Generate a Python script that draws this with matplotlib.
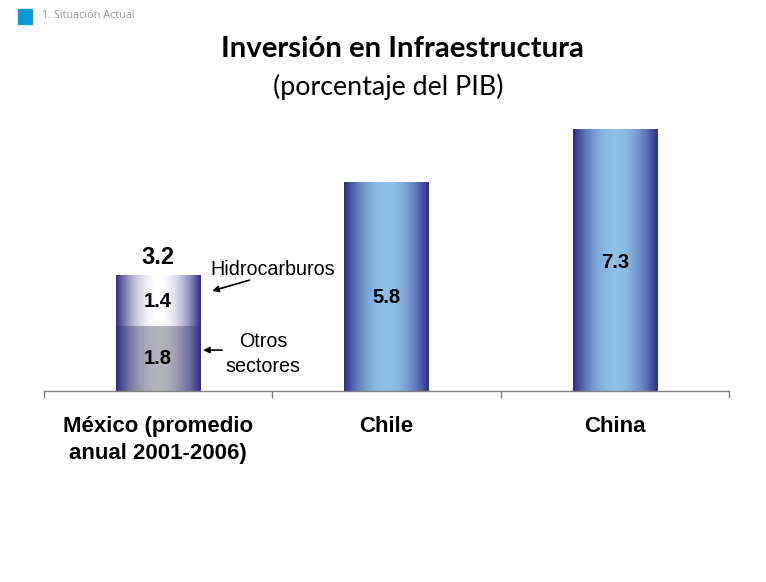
import numpy as np
import matplotlib.pyplot as plt
from matplotlib.colors import to_rgb
from matplotlib.patches import Rectangle
from matplotlib.transforms import blended_transform_factory

# datos
categorias = ["México (promedio\nanual 2001-2006)", "Chile", "China"]
mexico_otros = 1.8
mexico_hidro = 1.4
mexico_total = 3.2
valores = [mexico_total, 5.8, 7.3]
etiquetas = ["3.2", "5.8", "7.3"]

fig = plt.figure(figsize=(7.66, 5.82), dpi=100)
ax = fig.add_axes([0.0574, 0.3282, 0.8943, 0.4931])
ax.set_xlim(-0.5, 2.5)
ax.set_ylim(0, 8)

ancho = 0.37


def gradiente(ax, x0, y0, y1, borde, centro, ancho=ancho):
    t = np.abs(np.linspace(-1, 1, 256))
    f = t ** 2.0
    b = np.array(to_rgb(borde))
    c = np.array(to_rgb(centro))
    img = c[None, :] * (1 - f[:, None]) + b[None, :] * f[:, None]
    img = img[None, :, :]
    ax.imshow(img, extent=(x0 - ancho / 2, x0 + ancho / 2, y0, y1),
              aspect="auto", interpolation="bilinear", zorder=2)


navy = "#2b2c86"
# México: dos segmentos
gradiente(ax, 0, 0, mexico_otros, navy, "#b4b4bc")
gradiente(ax, 0, mexico_otros, mexico_otros + mexico_hidro, navy, "#ffffff")
# Chile y China
for i in (1, 2):
    gradiente(ax, i, 0, valores[i], navy, "#8fc0e8")

ax.set_xlim(-0.5, 2.5)
ax.set_ylim(0, 8)

for s in ["top", "right", "left"]:
    ax.spines[s].set_visible(False)
ax.spines["bottom"].set_color("#808080")
ax.spines["bottom"].set_linewidth(1.0)
ax.set_yticks([])
ax.set_xticks([-0.5, 0.5, 1.5, 2.5])
ax.set_xticklabels([])
ax.tick_params(axis="x", direction="out", length=5, color="#808080", width=1)

tr = blended_transform_factory(ax.transData, ax.transAxes)
for i, c in enumerate(categorias):
    ax.text(i, -0.088, c, transform=tr, ha="center", va="top",
            fontsize=16, fontweight="bold", family="Liberation Sans",
            linespacing=1.35)

# etiquetas de valores
fuente = dict(family="Liberation Sans", fontweight="bold", ha="center", va="center")
ax.text(0, mexico_total + 0.52, etiquetas[0], fontsize=17, **fuente)
ax.text(0, mexico_otros + mexico_hidro / 2, "1.4", fontsize=14.5, **fuente)
ax.text(0, mexico_otros / 2, "1.8", fontsize=14.5, **fuente)
ax.text(1, valores[1] * 0.45, etiquetas[1], fontsize=14.5, **fuente)
ax.text(2, valores[2] * 0.49, etiquetas[2], fontsize=14.5, **fuente)

# anotaciones
ax.text(0.5, 3.4, "Hidrocarburos", ha="center", va="center",
        fontsize=14.2, family="Liberation Sans")
ax.annotate("", xy=(0.237, 2.79), xytext=(0.40, 3.09),
            arrowprops=dict(arrowstyle="-|>", color="black", lw=1.2,
                            shrinkA=0, shrinkB=0, mutation_scale=9))
ax.annotate("", xy=(0.197, 1.14), xytext=(0.28, 1.14),
            arrowprops=dict(arrowstyle="-|>", color="black", lw=1.2,
                            shrinkA=0, shrinkB=0, mutation_scale=9))
ax.text(0.46, 1.03, "Otros\nsectores", ha="center", va="center",
        fontsize=14.2, family="Liberation Sans", linespacing=1.35)

# encabezado
fig.patches.append(Rectangle((18 / 766, 1 - 24 / 582), 14 / 766, 15 / 582,
                             transform=fig.transFigure, color="#0a9ad8"))
fig.text(42 / 766, 1 - 15 / 582, "1. Situación Actual", fontsize=7.8,
         color="#9a9a9a", family="Open Sans", va="center")

fig.text(402 / 766, 1 - 49 / 582, "Inversión en Infraestructura",
         fontsize=21.2, fontweight="bold", family="Lato", ha="center", va="center")
fig.text(388 / 766, 1 - 87 / 582, "(porcentaje del PIB)",
         fontsize=19.3, family="Lato", ha="center", va="center")

fig.savefig("out.png", dpi=100)
